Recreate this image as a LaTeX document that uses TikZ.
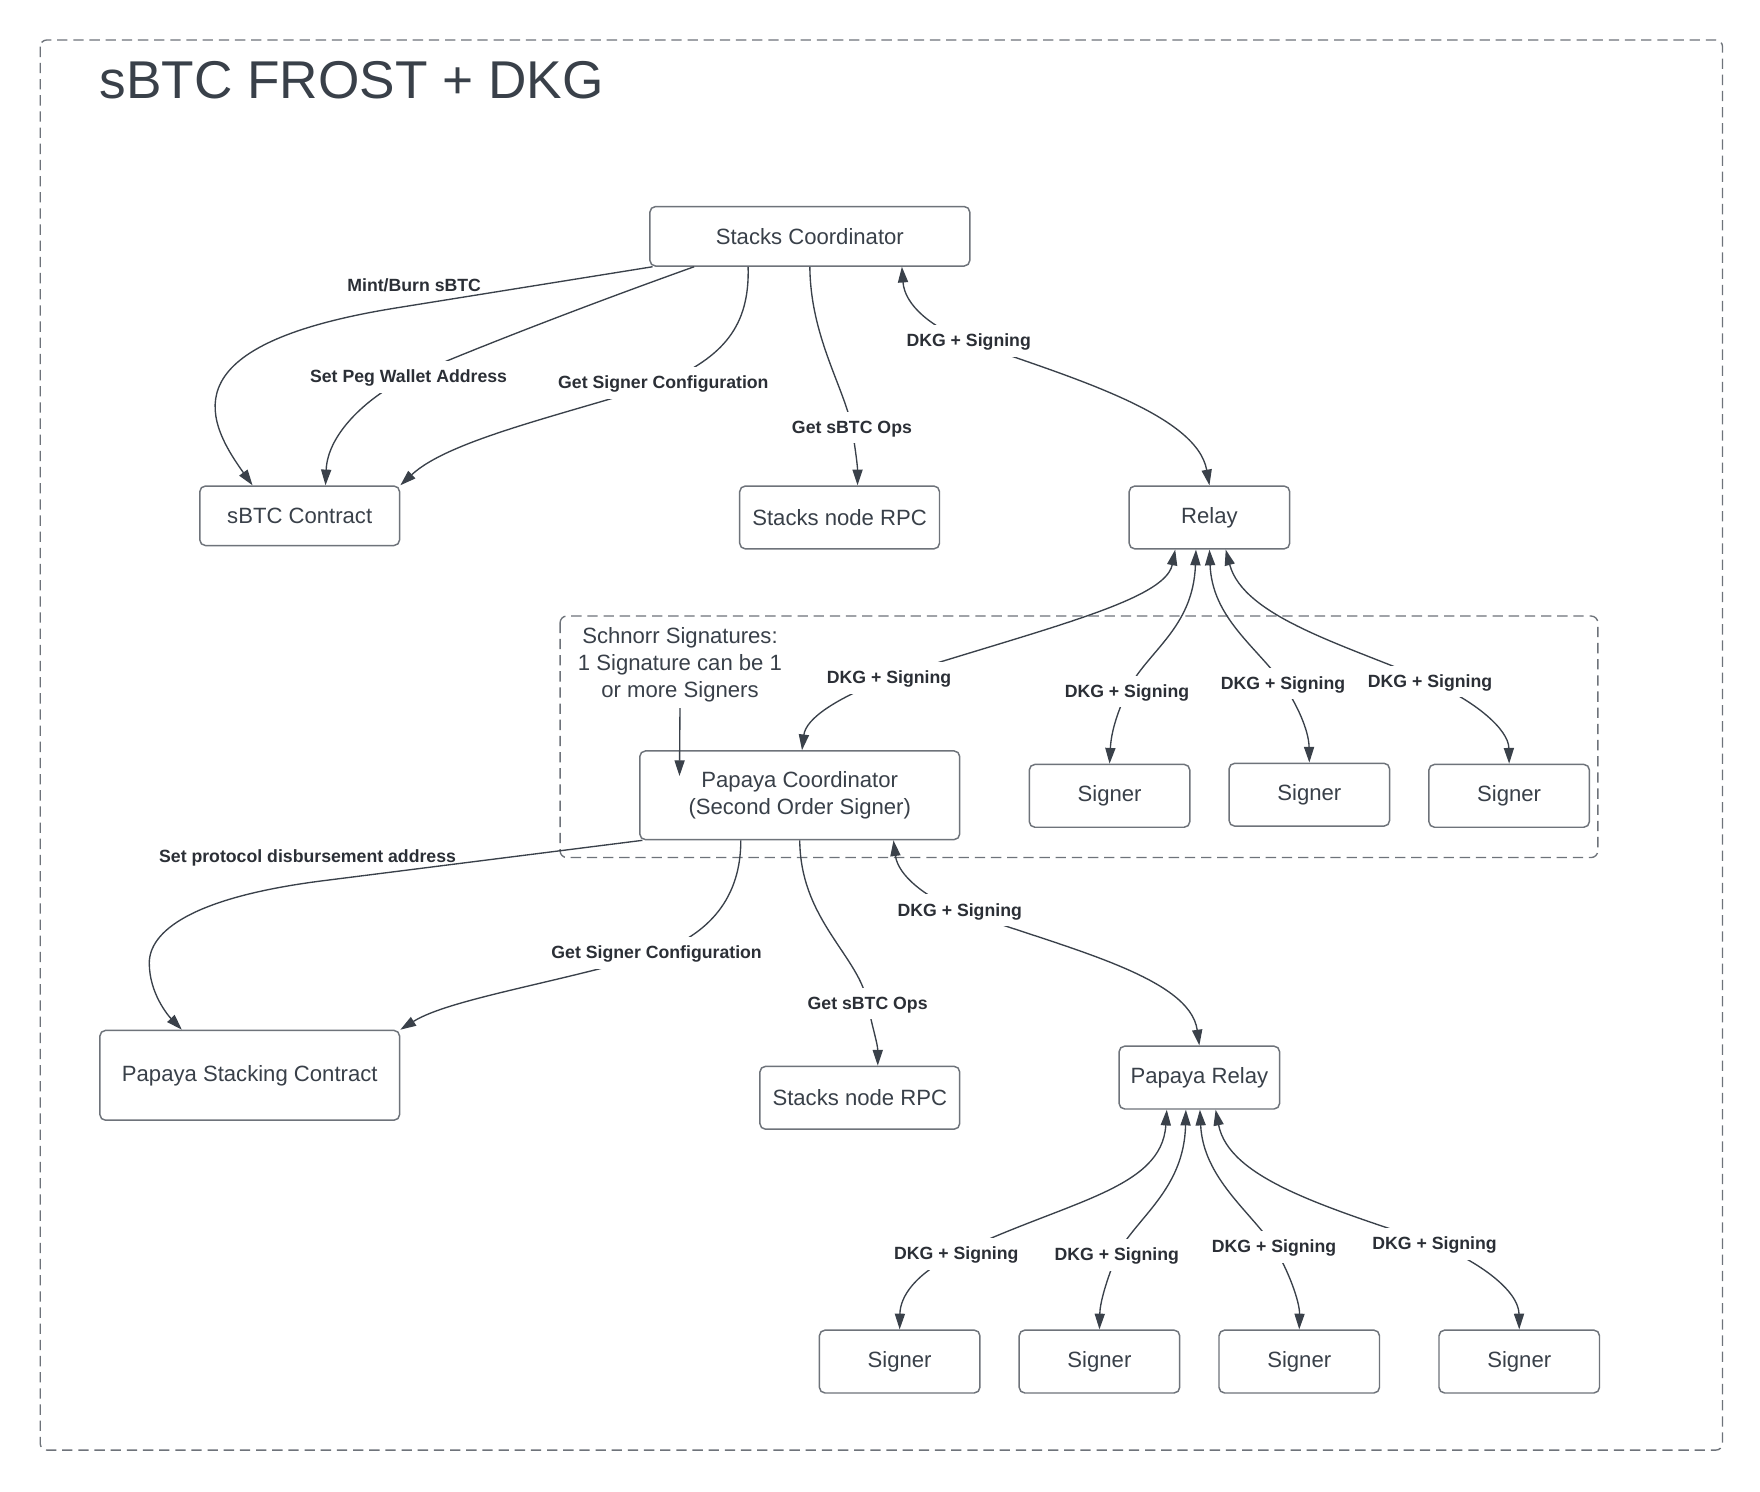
\documentclass[tikz,border=0pt]{standalone}
\usepackage{fontspec}
\setmainfont{Liberation Sans}
\usetikzlibrary{arrows.meta,calc}
\definecolor{txtcol}{HTML}{394049}
\definecolor{labcol}{HTML}{2B2F36}
\definecolor{linecol}{HTML}{3A414A}
\definecolor{boxcol}{HTML}{6E737A}
\definecolor{dashcol}{HTML}{6E737A}
\begin{document}
\begin{tikzpicture}[x=0.5pt,y=-0.5pt,
  box/.style={draw=boxcol, line width=0.65pt, rounded corners=2.5pt, fill=white,
    inner sep=0pt, align=center, text=txtcol,
    font=\fontsize{9.85}{12}\selectfont},
  lab/.style={font=\fontsize{7.88}{9}\selectfont\bfseries, text=labcol, fill=white,
    inner sep=2.4pt, text height=0.72em, text depth=0.21em},
  labnf/.style={font=\fontsize{7.88}{9}\selectfont\bfseries, text=labcol,
    inner sep=1pt},
  frame/.style={draw=dashcol, line width=0.6pt, rounded corners=3pt,
    dash pattern=on 4.6pt off 2.6pt},
  conn/.style={draw=linecol, line width=0.6pt,
    -{Triangle[length=7pt,width=4.5pt]}},
  both/.style={draw=linecol, line width=0.6pt,
    {Triangle[length=7pt,width=4.5pt]}-{Triangle[length=7pt,width=4.5pt]}}
]
\useasboundingbox (0,0) rectangle (1568,1329.2);
\fill[white] (0,0) rectangle (1568,1329.2);

% frames
\draw[frame] (35.8,35.6) rectangle (1534.6,1291.9);
\draw[frame] (499,548.8) rectangle (1423.5,764);

% title
\node[anchor=base west, inner sep=0pt, text=txtcol,
  font=\fontsize{23.7}{28}\selectfont] (title) at (88.3,87.6) {sBTC FROST + DKG};

% nodes
\node[box, minimum width=142.5pt, minimum height=26.5pt] (sc) at (721.5,210.5) {Stacks Coordinator};
\node[box, minimum width=89pt, minimum height=26.5pt] (sbtc) at (267,459.5) {sBTC Contract};
\node[box, minimum width=89pt, minimum height=28pt] (rpc1) at (748,461) {Stacks node RPC};
\node[box, minimum width=71.5pt, minimum height=28pt] (relay) at (1077.5,461) {Relay};

\node[anchor=north, inner sep=0pt, align=center, text=txtcol,
  font=\fontsize{9.85}{11.9}\selectfont] (note) at (605.8,559)
  {Schnorr Signatures:\\1 Signature can be 1\\or more Signers};

\node[box, minimum width=142.5pt, minimum height=39.5pt] (pc) at (712.5,708.5) {Papaya Coordinator\\(Second Order Signer)};
\node[box, minimum width=71.5pt, minimum height=28pt] (s1) at (988.5,709) {Signer};
\node[box, minimum width=71.5pt, minimum height=28pt] (s2) at (1166.5,708) {Signer};
\node[box, minimum width=71.5pt, minimum height=28pt] (s3) at (1344.5,709) {Signer};

\node[box, minimum width=133.5pt, minimum height=40pt] (psc) at (222.5,958) {Papaya Stacking Contract};
\node[box, minimum width=89pt, minimum height=28pt] (rpc2) at (766,978) {Stacks node RPC};
\node[box, minimum width=71.5pt, minimum height=28pt] (prelay) at (1068.5,960) {Papaya Relay};

\node[box, minimum width=71.5pt, minimum height=28pt] (b1) at (801.5,1213) {Signer};
\node[box, minimum width=71.5pt, minimum height=28pt] (b2) at (979.5,1213) {Signer};
\node[box, minimum width=71.5pt, minimum height=28pt] (b3) at (1157.5,1213) {Signer};
\node[box, minimum width=71.5pt, minimum height=28pt] (b4) at (1353.5,1213) {Signer};

% --- Stacks Coordinator edges
\draw[conn] ($(sc.south west)+(3,0)$) -- (355,274)
  .. controls (155,305.7) and (180,370) .. ($(sbtc.north)+(-42,0)$);
\node[labnf] (l1) at (369,254) {Mint/Burn sBTC};

\draw[conn] ($(sc.south west)+(40,0)$) .. controls (500,280) and (400,320) ..
  (364,336) node[lab] (l2) {Set Peg Wallet Address}
  .. controls (330,352) and (292,385) .. ($(sbtc.north)+(23,0)$);

\draw[conn] ($(sc.south)+(-55,0)$) .. controls (668,290) and (645,318) ..
  (591,341) node[lab] (l3) {Get Signer Configuration}
  .. controls (500,370) and (400,392) .. (sbtc.north east);

\draw[conn] (sc.south) .. controls (722,300) and (752,345) ..
  (759,381) node[lab] (l4) {Get sBTC Ops}
  .. controls (762,400) and (764,415) .. ($(rpc1.north)+(16,0)$);

\draw[both] ($(sc.south)+(82,0)$) .. controls (806,272) and (830,292) ..
  (863,304) node[lab] (l5) {DKG + Signing}
  .. controls (950,335) and (1066,368) .. (relay.north);

% --- Relay edges
\draw[both] ($(relay.south)+(-30.5,0)$) .. controls (1038,535) and (930,560) ..
  (792,604) node[lab] (l6) {DKG + Signing}
  .. controls (745,622) and (718,640) .. ($(pc.north)+(2,0)$);

\draw[both] ($(relay.south)+(-12,0)$) .. controls (1063,560) and (1022,580) ..
  (1004,616) node[lab] (l7) {DKG + Signing}
  .. controls (995,636) and (990,652) .. (s1.north);

\draw[both] (relay.south) .. controls (1080,550) and (1118,575) ..
  (1143,609) node[lab] (l8) {DKG + Signing}
  .. controls (1155,627) and (1166,650) .. (s2.north);

\draw[both] ($(relay.south)+(14.5,0)$) .. controls (1108,550) and (1200,575) ..
  (1274,607) node[lab] (l9) {DKG + Signing}
  .. controls (1315,625) and (1344,650) .. (s3.north);

% --- note arrow
\draw[conn] ($(note.south)+(0,5)$) -- ($(pc.north west)+(36,23)$);

% --- Papaya Coordinator edges
\draw[conn] ($(pc.south west)+(3,0)$) -- (285,785)
  .. controls (170,800) and (133,830) .. (133,858)
  .. controls (133,885) and (150,905) .. ($(psc.north)+(-60.5,0)$);
\node[labnf] (l10) at (274,764) {Set protocol disbursement address};

\draw[conn] ($(pc.south)+(-52.5,0)$) .. controls (660,800) and (632,832) ..
  (585,849) node[lab] (l11) {Get Signer Configuration}
  .. controls (500,875) and (400,890) .. (psc.north east);

\draw[conn] (pc.south) .. controls (713,820) and (766,852) ..
  (773,894) node[lab] (l12) {Get sBTC Ops}
  .. controls (777,915) and (782,930) .. ($(rpc2.north)+(16,0)$);

\draw[both] ($(pc.south)+(83.5,0)$) .. controls (800,780) and (825,800) ..
  (855,811) node[lab] (l13) {DKG + Signing}
  .. controls (950,845) and (1060,870) .. (prelay.north);

% --- Papaya Relay edges
\draw[both] ($(prelay.south)+(-29,0)$) .. controls (1035,1060) and (950,1070) ..
  (852,1117) node[lab] (l14) {DKG + Signing}
  .. controls (815,1135) and (802,1155) .. (b1.north);

\draw[both] ($(prelay.south)+(-12,0)$) .. controls (1055,1060) and (1012,1085) ..
  (995,1118) node[lab] (l15) {DKG + Signing}
  .. controls (986,1140) and (980,1160) .. (b2.north);

\draw[both] ($(prelay.south)+(0.5,0)$) .. controls (1072,1050) and (1115,1080) ..
  (1135,1111) node[lab] (l16) {DKG + Signing}
  .. controls (1148,1132) and (1158,1160) .. (b3.north);

\draw[both] ($(prelay.south)+(14.5,0)$) .. controls (1095,1050) and (1180,1075) ..
  (1278,1108) node[lab] (l17) {DKG + Signing}
  .. controls (1318,1124) and (1353,1150) .. (b4.north);
\end{tikzpicture}
\end{document}
